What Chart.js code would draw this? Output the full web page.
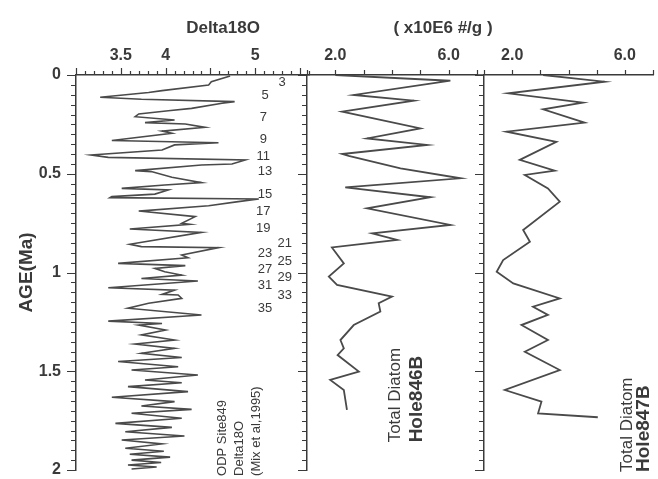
<!DOCTYPE html>
<html>
<head>
<meta charset="utf-8">
<script src="https://cdn.jsdelivr.net/npm/chart.js"></script>
<style>
  html, body { margin: 0; padding: 0; background: #fff; }
  #wrap { position: relative; width: 658px; height: 479px; overflow: hidden; }
  #wrap canvas { position: absolute; left: 0; top: 0; }
</style>
</head>
<body>
<div id="wrap">
  <canvas id="p1" width="658" height="479"></canvas>
  <canvas id="p2" width="658" height="479"></canvas>
  <canvas id="p3" width="658" height="479"></canvas>
</div>
<script>
// tick labels
const ageTickLabels = ['0', '0.5', '1', '1.5', '2'];
const d18oTickLabels = ['3.5', '4', '5'];
const diatomTickLabels = ['2.0', '6.0'];

// ODP Site 849 delta18O (Mix et al, 1995)
const d18oAge = [0.005, 0.034, 0.051, 0.079, 0.089, 0.113, 0.123, 0.135, 0.143, 0.169,
  0.181, 0.197, 0.211, 0.228, 0.241, 0.248, 0.265, 0.284, 0.295, 0.332,
  0.343, 0.354, 0.380, 0.405, 0.417, 0.430, 0.451, 0.456, 0.484, 0.489,
  0.518, 0.545, 0.557, 0.574, 0.582, 0.603, 0.616, 0.621, 0.628, 0.641,
  0.662, 0.689, 0.717, 0.751, 0.756, 0.780, 0.797, 0.857, 0.869, 0.874,
  0.911, 0.925, 0.954, 0.965, 0.979, 0.996, 1.013, 1.030, 1.043, 1.077,
  1.089, 1.111, 1.114, 1.131, 1.156, 1.181, 1.215, 1.246, 1.258, 1.266,
  1.291, 1.316, 1.342, 1.362, 1.384, 1.409, 1.430, 1.451, 1.477, 1.494,
  1.519, 1.544, 1.558, 1.578, 1.603, 1.632, 1.654, 1.676, 1.693, 1.713,
  1.738, 1.764, 1.784, 1.806, 1.828, 1.848, 1.868, 1.890, 1.905, 1.920,
  1.935, 1.950, 1.962, 1.975, 1.985, 1.995];
const d18oValue = [4.72, 4.51, 4.48, 3.96, 3.81, 3.27, 3.73, 4.77, 4.63, 4.29,
  4.03, 3.70, 3.66, 4.10, 3.77, 4.22, 4.44, 3.96, 4.07, 3.40,
  4.59, 4.10, 3.96, 3.17, 3.36, 4.89, 4.74, 4.40, 3.66, 3.84,
  4.07, 4.40, 3.99, 3.51, 4.03, 3.88, 3.40, 3.38, 5.04, 4.81,
  4.48, 3.70, 4.33, 4.18, 4.27, 3.60, 4.40, 3.60, 3.73, 4.59,
  4.18, 4.25, 3.47, 4.22, 3.88, 3.99, 4.18, 3.73, 4.36, 3.36,
  4.10, 3.96, 4.14, 4.18, 3.81, 3.58, 4.40, 3.36, 3.96, 3.70,
  4.00, 3.73, 4.10, 3.66, 4.10, 3.73, 4.18, 3.47, 4.14, 3.62,
  4.36, 3.77, 4.18, 3.58, 4.25, 3.40, 4.10, 3.73, 4.29, 3.62,
  4.18, 3.44, 4.07, 3.55, 4.21, 3.51, 3.96, 3.55, 3.98, 3.60,
  4.05, 3.62, 3.95, 3.58, 3.90, 3.62];

// total diatom, Hole 846B (x10E6 #/g)
const age846 = [0.000, 0.029, 0.039, 0.101, 0.130, 0.186, 0.270, 0.321, 0.354, 0.400,
  0.410, 0.473, 0.523, 0.569, 0.619, 0.675, 0.759, 0.802, 0.835, 0.873,
  0.954, 1.021, 1.063, 1.122, 1.156, 1.198, 1.266, 1.342, 1.384, 1.418,
  1.502, 1.544, 1.595, 1.696];
const diatom846 = [2.00, 6.06, 5.59, 2.65, 4.77, 2.24, 5.00, 3.12, 5.24, 2.24,
  2.47, 4.30, 6.42, 2.35, 5.36, 3.12, 6.06, 3.30, 4.18, 1.88,
  2.30, 1.77, 2.06, 4.00, 3.53, 3.59, 2.65, 2.18, 2.30, 2.08,
  2.83, 1.82, 2.30, 2.41];

// total diatom, Hole 847B (x10E6 #/g)
const age847 = [0.000, 0.034, 0.093, 0.140, 0.174, 0.241, 0.287, 0.338, 0.430, 0.484,
  0.506, 0.574, 0.641, 0.785, 0.844, 0.937, 0.996, 1.055, 1.131, 1.173,
  1.215, 1.266, 1.342, 1.401, 1.494, 1.595, 1.654, 1.713, 1.733];
const diatom847 = [3.10, 5.28, 1.86, 4.51, 3.10, 4.57, 1.80, 3.57, 2.27, 3.51,
  2.45, 3.27, 3.69, 2.39, 2.63, 1.68, 1.45, 2.04, 3.69, 2.74,
  3.27, 2.33, 3.27, 2.45, 3.69, 1.74, 3.04, 2.92, 5.04];

// isotope stage numbers
const stageNames = ['3', '5', '7', '9', '11', '13', '15', '17', '19', '21', '23', '25', '27', '29', '31', '33', '35'];
const stageAge = [0.039, 0.101, 0.214, 0.326, 0.410, 0.490, 0.603, 0.692, 0.776, 0.852, 0.903, 0.945, 0.982, 1.026, 1.067, 1.117, 1.181];

const FONT = '"Liberation Sans", Arial, Helvetica, sans-serif';
const INK = '#3a3a3a';
const TRACE = '#4a4a4a';

function zip(xs, ys) { return xs.map((v, i) => ({ x: v, y: ys[i] })); }
function pick(v, labels) {
  const hit = labels.find(t => Math.abs(parseFloat(t) - v) < 1e-6);
  return hit === undefined ? '' : hit;
}
function half(v) { return Math.abs(v * 2 - Math.round(v * 2)) < 1e-6; }

// short tick marks, major ones longer
function tickMarks(xMajor, xLong, xShort, joinLeft) {
  return {
    id: 'tickMarks',
    afterDraw(chart) {
      const { ctx, chartArea: a } = chart;
      const xs = chart.scales.x, ys = chart.scales.y;
      ctx.save();
      ctx.strokeStyle = INK;
      ctx.lineWidth = 1.2;
      ctx.beginPath();
      ys.ticks.forEach(t => {
        const py = Math.round(ys.getPixelForValue(t.value)) + 0.5;
        ctx.moveTo(a.left, py);
        ctx.lineTo(a.left - (half(t.value) ? 9 : 5), py);
      });
      xs.ticks.forEach(t => {
        const px = Math.round(xs.getPixelForValue(t.value)) + 0.5;
        ctx.moveTo(px, a.top);
        ctx.lineTo(px, a.top - (xMajor(t.value) ? xLong : xShort));
      });
      ctx.stroke();
      if (joinLeft) {
        // close the small gap between the two diatom panels along the top axis
        ctx.lineWidth = 1.5;
        ctx.beginPath();
        ctx.moveTo(a.left - joinLeft, a.top);
        ctx.lineTo(a.left, a.top);
        ctx.stroke();
      }
      ctx.restore();
    }
  };
}

// free text: x/y in data units, or px/py in pixels
function textLayer(items) {
  return {
    id: 'textLayer',
    afterDraw(chart) {
      const ctx = chart.ctx;
      const xs = chart.scales.x, ys = chart.scales.y;
      items.forEach(it => {
        const px = it.px !== undefined ? it.px : xs.getPixelForValue(it.x);
        const py = it.py !== undefined ? it.py : ys.getPixelForValue(it.y);
        ctx.save();
        ctx.translate(px, py);
        if (it.rotate) ctx.rotate(-Math.PI / 2);
        ctx.fillStyle = INK;
        ctx.font = it.font;
        ctx.textAlign = it.align || 'center';
        ctx.textBaseline = 'middle';
        ctx.fillText(it.text, 0, 0);
        ctx.restore();
      });
    }
  };
}

function makePanel(id, cfg) {
  return new Chart(document.getElementById(id), {
    type: 'scatter',
    data: {
      datasets: [{
        data: cfg.points,
        showLine: true,
        borderColor: TRACE,
        borderWidth: cfg.lineWidth,
        pointRadius: 0,
        tension: 0,
        fill: false
      }]
    },
    options: {
      responsive: false,
      animation: false,
      layout: { padding: { left: cfg.padLeft, right: cfg.padRight, top: 0, bottom: 9 } },
      plugins: { legend: { display: false }, tooltip: { enabled: false } },
      scales: {
        x: {
          type: 'linear',
          position: 'top',
          min: cfg.xMin,
          max: cfg.xMax,
          afterFit(s) { s.height = 75; s.paddingLeft = 0; s.paddingRight = 0; },
          grid: { display: true, drawOnChartArea: false, drawTicks: false },
          border: { display: true, color: INK, width: 1.5 },
          ticks: {
            stepSize: cfg.xStep,
            autoSkip: false,
            maxTicksLimit: 100,
            maxRotation: 0,
            padding: 10,
            color: INK,
            font: { family: FONT, size: 16, weight: 'bold' },
            callback: v => pick(v, cfg.xLabels)
          }
        },
        y: {
          type: 'linear',
          reverse: true,
          min: 0,
          max: 2,
          afterFit(s) { s.width = cfg.yWidth; s.paddingTop = 0; s.paddingBottom = 0; },
          grid: { display: true, drawOnChartArea: false, drawTicks: false },
          border: { display: true, color: INK, width: 1.5 },
          ticks: {
            stepSize: 0.05,
            autoSkip: false,
            maxTicksLimit: 100,
            padding: 15,
            color: INK,
            font: { family: FONT, size: 16, weight: 'bold' },
            callback: v => cfg.yLabels ? pick(v, ageTickLabels) : ''
          },
          title: cfg.yTitle ? {
            display: true,
            text: cfg.yTitle,
            color: INK,
            font: { family: FONT, size: 19, weight: 'bold', lineHeight: 1.2 },
            padding: { top: 15, bottom: 0 }
          } : { display: false }
        }
      }
    },
    plugins: [tickMarks(cfg.xMajor, cfg.xLong, cfg.xShort, cfg.joinLeft), textLayer(cfg.texts)]
  });
}

const stageCol = [5.30, 5.11, 5.09, 5.09, 5.09, 5.11, 5.11, 5.09, 5.09, 5.33, 5.11, 5.33, 5.11, 5.33, 5.11, 5.33, 5.11];
const stageTexts = stageNames.map((s, i) => ({
  text: s, x: stageCol[i], y: stageAge[i], font: '13px ' + FONT
}));

makePanel('p1', {
  points: zip(d18oValue, d18oAge),
  lineWidth: 1.6,
  padLeft: 0, padRight: 349, yWidth: 76,
  xMin: 3.0, xMax: 5.6, xStep: 0.1, xLabels: d18oTickLabels,
  xMajor: half, xLong: 7, xShort: 4,
  yLabels: true, yTitle: 'AGE(Ma)',
  texts: [
    { text: 'Delta18O', px: 223, py: 28, font: 'bold 17px ' + FONT },
    ...stageTexts,
    { text: 'ODP Site849', x: 4.63, y: 2.03, rotate: true, align: 'left', font: '13px ' + FONT },
    { text: 'Delta18O', x: 4.82, y: 2.03, rotate: true, align: 'left', font: '13px ' + FONT },
    { text: '(Mix et al,1995)', x: 5.01, y: 2.03, rotate: true, align: 'left', font: '13px ' + FONT }
  ]
});

makePanel('p2', {
  points: zip(diatom846, age846),
  lineWidth: 1.8,
  padLeft: 292, padRight: 181, yWidth: 15,
  xMin: 1, xMax: 7, xStep: 1, xLabels: diatomTickLabels,
  xMajor: () => false, xLong: 5, xShort: 5,
  yLabels: false,
  texts: [
    { text: '( x10E6 #/g )', px: 443, py: 28, font: 'bold 17px ' + FONT },
    { text: 'Total Diatom', x: 4.11, y: 1.86, rotate: true, align: 'left', font: '17px ' + FONT },
    { text: 'Hole846B', x: 4.88, y: 1.86, rotate: true, align: 'left', font: 'bold 19px ' + FONT }
  ]
});

makePanel('p3', {
  points: zip(diatom847, age847),
  lineWidth: 1.8,
  padLeft: 470, padRight: 5, yWidth: 14,
  xMin: 1, xMax: 7, xStep: 1, xLabels: diatomTickLabels,
  xMajor: () => false, xLong: 5, xShort: 5, joinLeft: 7,
  yLabels: false,
  texts: [
    { text: 'Total Diatom', x: 6.08, y: 2.01, rotate: true, align: 'left', font: '17px ' + FONT },
    { text: 'Hole847B', x: 6.68, y: 2.01, rotate: true, align: 'left', font: 'bold 19px ' + FONT }
  ]
});
</script>
</body>
</html>
